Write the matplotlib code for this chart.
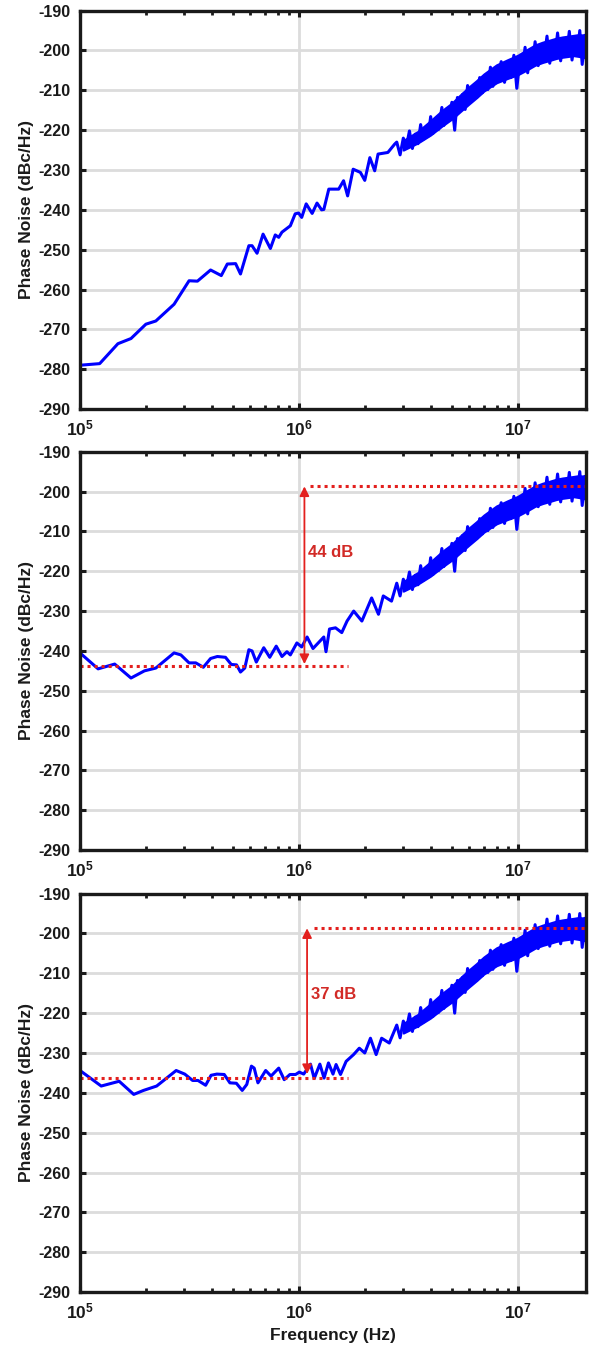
import numpy as np
import matplotlib
matplotlib.use("Agg")
import matplotlib.pyplot as plt
from matplotlib.ticker import FixedLocator, NullFormatter

plt.rcParams['font.family'] = ['Liberation Sans', 'DejaVu Sans']
plt.rcParams['font.weight'] = 'bold'
plt.rcParams['mathtext.fontset'] = 'custom'
plt.rcParams['mathtext.rm'] = 'Liberation Sans:bold'
plt.rcParams['mathtext.it'] = 'Liberation Sans:bold'
plt.rcParams['mathtext.bf'] = 'Liberation Sans:bold'

# frequencies in MHz, phase noise in dBc/Hz
# panel 1: low / mid band
p1_f = [0.1, 0.123, 0.149, 0.171, 0.2, 0.222, 0.269, 0.315, 0.344, 0.395,
        0.442, 0.471, 0.514, 0.541, 0.591, 0.611, 0.644, 0.686, 0.741, 0.78,
        0.809, 0.837, 0.914, 0.962, 0.997, 1.03, 1.08, 1.15, 1.21, 1.27,
        1.30, 1.37, 1.52, 1.60, 1.67, 1.77, 1.91, 2.0, 2.11, 2.22,
        2.30, 2.55, 2.74]
p1_pn = [-279.0, -278.6, -273.6, -272.3, -268.7, -267.9, -263.7, -257.8, -257.9, -255.1,
         -256.5, -253.6, -253.5, -256.1, -249.0, -249.0, -250.9, -246.1, -249.7, -246.3,
         -246.9, -245.6, -244.0, -241.0, -240.8, -241.9, -238.5, -240.9, -238.3, -240.0,
         -239.9, -234.8, -234.8, -232.7, -236.5, -229.8, -230.6, -232.6, -226.9, -230.2,
         -226.0, -225.6, -223.5]

# panel 2: low / mid band
p2_f = [0.1, 0.121, 0.144, 0.171, 0.197, 0.222, 0.269, 0.289, 0.315, 0.338,
        0.366, 0.395, 0.424, 0.462, 0.491, 0.519, 0.541, 0.566, 0.591, 0.611,
        0.639, 0.691, 0.736, 0.788, 0.837, 0.882, 0.914, 0.979, 1.03, 1.09,
        1.16, 1.30, 1.33, 1.38, 1.47, 1.57, 1.66, 1.78, 1.94, 2.15,
        2.31, 2.43, 2.65]
p2_pn = [-240.5, -244.5, -243.3, -246.8, -245.0, -244.3, -240.5, -241.0, -243.0, -243.0,
         -244.1, -241.9, -241.4, -241.6, -243.4, -243.5, -245.3, -244.3, -239.7, -240.0,
         -242.8, -239.2, -241.6, -238.8, -241.4, -240.2, -241.0, -238.0, -239.0, -236.5,
         -239.4, -236.5, -240.2, -234.5, -234.2, -235.4, -232.5, -230.0, -232.5, -226.7,
         -230.8, -226.2, -227.5]

# panel 3: low / mid band
p3_f = [0.1, 0.125, 0.151, 0.176, 0.195, 0.224, 0.275, 0.301, 0.327, 0.346,
        0.375, 0.397, 0.422, 0.456, 0.484, 0.518, 0.551, 0.578, 0.607, 0.625,
        0.65, 0.705, 0.746, 0.809, 0.857, 0.91, 0.966, 1.005, 1.052, 1.13,
        1.175, 1.247, 1.303, 1.365, 1.432, 1.479, 1.549, 1.644, 1.778, 1.888,
        2.0, 2.123, 2.254, 2.388, 2.588]
p3_pn = [-234.4, -238.3, -237.1, -240.4, -239.4, -238.3, -234.4, -235.3, -236.9, -236.9,
         -238.1, -235.6, -235.3, -235.4, -237.5, -237.6, -239.4, -237.9, -233.3, -233.8,
         -237.5, -234.4, -235.8, -233.8, -236.7, -235.4, -235.4, -234.8, -235.3, -232.8,
         -236.4, -232.8, -236.3, -232.5, -235.3, -232.9, -235.4, -232.1, -230.4, -228.8,
         -230.0, -226.3, -230.4, -226.3, -227.5]

# high band (same in all three panels): peaks and dips of the noisy trace
hf_f = [2.8, 2.9, 3.0, 3.1, 3.2, 3.3, 3.4, 3.5, 3.6, 3.7,
        3.8, 3.9, 4.0, 4.1, 4.2, 4.35, 4.5, 4.6, 4.75, 4.9,
        5.0, 5.15, 5.3, 5.45, 5.6, 5.75, 5.9, 6.1, 6.3, 6.5,
        6.7, 6.9, 7.1, 7.3, 7.5, 7.7, 7.9, 8.1, 8.4, 8.7,
        9.0, 9.3, 9.6, 9.9, 10.2, 10.5, 10.8, 11.1, 11.4, 11.7,
        12.0, 12.4, 12.8, 13.2, 13.6, 14.0, 14.4, 14.8, 15.2, 15.7,
        16.2, 16.7, 17.2, 17.7, 18.2, 18.7, 19.2, 19.7, 20.2, 20.6]
hf_pn = [-223.0, -226.2, -222.0, -224.0, -220.2, -224.6, -221.0, -223.4, -218.6, -222.3,
         -219.5, -221.5, -216.6, -220.8, -217.5, -219.8, -214.3, -218.8, -214.6, -216.2,
         -213.0, -220.0, -211.8, -214.6, -211.0, -214.8, -208.8, -212.0, -209.0, -211.8,
         -206.8, -210.6, -207.3, -209.8, -204.2, -209.0, -205.2, -207.0, -202.8, -208.0,
         -203.5, -206.8, -201.2, -209.5, -202.8, -205.0, -199.2, -205.6, -200.2, -203.5,
         -197.8, -203.8, -199.4, -202.0, -196.4, -203.2, -197.8, -201.4, -195.6, -202.6,
         -197.2, -201.2, -195.2, -202.4, -196.8, -201.0, -195.0, -203.5, -196.2, -203.0]

# solid part of the noise band (upper / lower edge)
band_f = [3.0, 3.5, 4.0, 4.5, 5.0, 5.5, 6.0, 6.5, 7.0, 7.5,
          8.0, 9.0, 10.0, 11.0, 12.0, 13.0, 14.0, 15.0, 16.0, 17.0,
          18.0, 19.0, 20.6]
band_hi = [-222.6, -220.3, -217.6, -215.1, -213.2, -211.0, -209.1, -207.5, -205.9, -204.7,
           -203.6, -202.3, -201.2, -199.8, -198.6, -197.9, -197.4, -196.9, -196.6, -196.4,
           -196.2, -196.0, -196.2]
band_lo = [-225.0, -223.2, -221.2, -219.0, -217.2, -215.2, -213.4, -211.8, -210.2, -209.1,
           -208.1, -207.0, -206.1, -204.9, -203.7, -203.0, -202.5, -202.0, -201.7, -201.5,
           -201.3, -201.5, -201.9]

# annotations for panels 2 and 3 (MHz / dBc/Hz)
ann = [None,
       dict(x=1.06, lo=-243.7, hi=-198.7, tip=-243.3, end=1.68, start=1.13, txt='44 dB', tx=1.10),
       dict(x=1.09, lo=-236.4, hi=-198.7, tip=-235.3, end=1.68, start=1.17, txt='37 dB', tx=1.14)]

panels = [(p1_f, p1_pn), (p2_f, p2_pn), (p3_f, p3_pn)]
bottoms = [0.6961, 0.3684, 0.0401]

red = '#e3201e'
blue = '#0000ff'
fig = plt.figure(figsize=(5.94, 13.46), dpi=100)

for i, (pf, ppn) in enumerate(panels):
    ax = fig.add_axes([80 / 594, bottoms[i], 506 / 594, 0.2960])
    f = np.array(pf + hf_f) * 1e6
    pn = np.array(ppn + hf_pn)
    ax.semilogx(f, pn, color=blue, lw=2.2, zorder=3)
    ax.fill_between(np.array(band_f) * 1e6, band_lo, band_hi, color=blue, lw=1.5,
                    edgecolor=blue, zorder=3)

    ax.set_xlim(1e5, 2.05e7)
    ax.set_ylim(-290, -190)
    ax.set_yticks(np.arange(-290, -189, 10))
    ax.set_yticklabels([str(v) for v in range(-290, -189, 10)])
    ax.xaxis.set_major_locator(FixedLocator([1e5, 1e6, 1e7]))
    ax.set_xticklabels([r'$10^{5}$', r'$10^{6}$', r'$10^{7}$'])
    minors = [k * 10 ** e for e in (5, 6) for k in range(2, 10)]
    ax.xaxis.set_minor_locator(FixedLocator(minors))
    ax.xaxis.set_minor_formatter(NullFormatter())

    ax.grid(True, which='major', color='#dcdcdc', lw=2.0, zorder=0)
    ax.set_axisbelow(True)
    for s in ax.spines.values():
        s.set_linewidth(2.4)
        s.set_color('#1a1a1a')
        s.set_zorder(5)
    ax.tick_params(axis='both', which='major', direction='in', length=4, width=2.2,
                   top=True, right=True, labelsize=11.5, colors='#1a1a1a', pad=7)
    ax.tick_params(axis='x', which='minor', direction='in', length=3, width=2.0,
                   top=True, bottom=True, colors='#1a1a1a')
    ax.tick_params(axis='x', which='major', pad=7, labelsize=12.5)

    ax.set_ylabel('Phase Noise (dBc/Hz)', fontsize=12.5, fontweight='bold', color='#1a1a1a')
    ax.yaxis.set_label_coords(-0.09, 0.5)

    a = ann[i]
    if a is not None:
        ax.plot([1e5, a['end'] * 1e6], [a['lo'], a['lo']], color=red, lw=2.2,
                ls=(0, (1, 1.3)), zorder=4)
        ax.plot([a['start'] * 1e6, 2.05e7], [a['hi'], a['hi']], color=red, lw=2.2,
                ls=(0, (1, 1.3)), zorder=4)
        ax.annotate('', xy=(a['x'] * 1e6, a['hi']), xytext=(a['x'] * 1e6, a['tip']),
                    arrowprops=dict(arrowstyle='<|-|>', color=red, lw=1.3,
                                    mutation_scale=14, shrinkA=0, shrinkB=0), zorder=4)
        ax.text(a['tx'] * 1e6, -215.4, a['txt'], color='#d22a26', fontsize=12,
                fontweight='bold', ha='left', va='center')

    if i == 2:
        ax.set_xlabel('Frequency (Hz)', fontsize=12.5, fontweight='bold', color='#1a1a1a')
        ax.xaxis.set_label_coords(0.5, -0.09)

fig.savefig('out.png', dpi=100, facecolor='white')
